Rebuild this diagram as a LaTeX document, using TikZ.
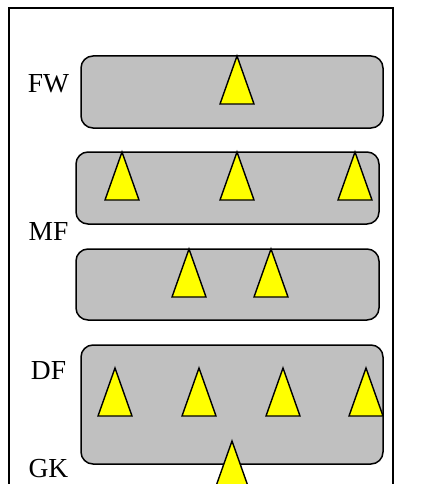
\documentclass[tikz,border=0pt]{standalone}
\usepackage{fontspec}
\setmainfont{Liberation Serif}
\definecolor{boxgray}{HTML}{C0C0C0}
\definecolor{coneyellow}{HTML}{FFFF00}
\tikzset{
  band/.style={draw=black, fill=boxgray, line width=1.5pt, rounded corners=12pt},
  cone/.style={draw=black, fill=coneyellow, line width=1.4pt, line join=miter},
  frame/.style={draw=black, line width=1.5pt},
  lbl/.style={font=\fontsize{27.5}{32}\selectfont, inner sep=0pt}
}
% a cone with its apex at (#1,#2)
\newcommand{\conemark}[2]{\draw[cone] (#1,#2) -- (#1-17,#2+48) -- (#1+17,#2+48) -- cycle;}
\begin{document}
\begin{tikzpicture}[x=1pt,y=-1pt]
  \useasboundingbox (0,0) rectangle (445,484);
  \clip (0,0) rectangle (445,484);
  % caption above the frame
  \node[lbl, anchor=base west] (cap) at (39,-5.5) {(\hspace{84pt})};
  % outer frame, open at the bottom
  \draw[frame] (9,500) -- (9,8) -- (393,8) -- (393,500);
  % layers
  \draw[band] (81,56) rectangle (383,128);
  \draw[band] (76,152) rectangle (379,224);
  \draw[band] (76,249) rectangle (379,320);
  \draw[band] (81,345) rectangle (383,464);
  % layer labels
  \node[lbl] (fw) at (48.5,84) {FW};
  \node[lbl] (mf) at (48.5,231) {MF};
  \node[lbl] (df) at (48.5,371) {DF};
  \node[lbl] (gk) at (48.5,469) {GK};
  % players
  \conemark{237}{56}
  \conemark{122}{152}
  \conemark{237}{152}
  \conemark{355}{152}
  \conemark{189}{249}
  \conemark{271}{249}
  \conemark{115}{368}
  \conemark{199}{368}
  \conemark{283}{368}
  \conemark{366}{368}
  \conemark{232}{441}
\end{tikzpicture}
\end{document}
